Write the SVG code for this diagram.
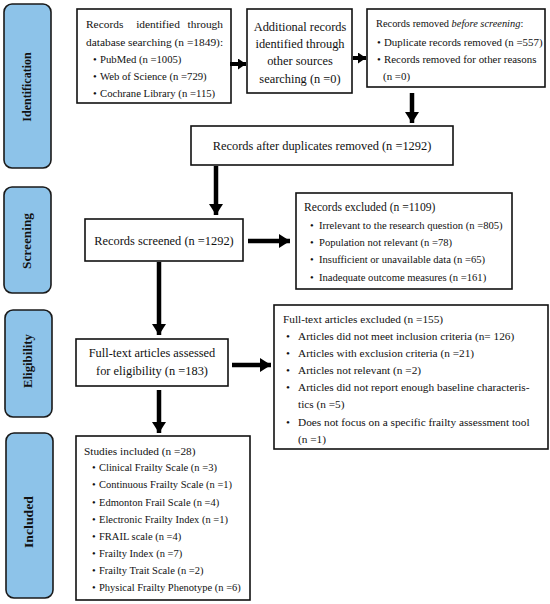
<svg xmlns="http://www.w3.org/2000/svg" width="550" height="604" viewBox="0 0 550 604">
<defs>
<style>
text{font-family:"Liberation Serif","Times New Roman",serif;fill:#111;}
.side{fill:#8DC3E9;stroke:#1a1a1a;stroke-width:1.6;}
.sl{font-weight:bold;font-size:12px;text-anchor:middle;}
.box{fill:#fff;stroke:#111;stroke-width:1.6;}
.t{font-size:12.4px;}
.h1{font-size:11.4px;}
.b1{font-size:10.7px;}
.b3{font-size:10.9px;}
.b5{font-size:10.6px;}
.b7{font-size:11.3px;}
.bi{font-size:10.5px;}
.c{text-anchor:middle;}
.e{text-anchor:end;}
.arr{stroke:#000;stroke-width:4.5;fill:none;}
.arr2{stroke:#000;stroke-width:4;fill:none;}
</style>
<marker id="ah" markerUnits="userSpaceOnUse" markerWidth="13" markerHeight="14" refX="11" refY="7" orient="auto">
<path d="M0,0 L11,7 L0,14 z" fill="#000"/>
</marker>
<marker id="ahs" markerUnits="userSpaceOnUse" markerWidth="9" markerHeight="11" refX="8" refY="5.5" orient="auto">
<path d="M0,0 L8,5.5 L0,11 z" fill="#000"/>
</marker>
</defs>
<rect width="550" height="604" fill="#fff"/>

<g id="side-identification">
<rect class="side" x="4" y="4" width="47" height="164" rx="8"/>
<text class="sl" transform="translate(31,87) rotate(-90)">Identification</text>
</g>
<g id="side-screening">
<rect class="side" x="4" y="187" width="47" height="106" rx="8"/>
<text class="sl" transform="translate(31,241) rotate(-90)" textLength="56" lengthAdjust="spacingAndGlyphs">Screening</text>
</g>
<g id="side-eligibility">
<rect class="side" x="5" y="310" width="47" height="107" rx="8"/>
<text class="sl" transform="translate(32,361) rotate(-90)" textLength="54" lengthAdjust="spacingAndGlyphs">Eligibility</text>
</g>
<g id="side-included">
<rect class="side" x="6" y="433" width="47" height="165" rx="8"/>
<text class="sl" transform="translate(33,522) rotate(-90)" textLength="52" lengthAdjust="spacingAndGlyphs">Included</text>
</g>

<g id="n-database">
<rect class="box" x="77" y="9" width="154" height="94"/>
<text class="h1" x="86" y="28">Records</text>
<text class="h1 c" x="158" y="28">identified</text>
<text class="h1 e" x="223" y="28">through</text>
<text class="h1" x="86" y="46">database searching (n =1849):</text>
<text class="b1" y="63"><tspan x="93">•</tspan><tspan x="100">PubMed (n =1005)</tspan></text>
<text class="b1" y="80"><tspan x="93">•</tspan><tspan x="100">Web of Science (n =729)</tspan></text>
<text class="b1" y="97"><tspan x="93">•</tspan><tspan x="100">Cochrane Library (n =115)</tspan></text>
</g>

<g id="n-additional">
<rect class="box" x="247" y="9" width="105" height="84"/>
<text class="t c" x="300" y="31" font-size="11.8">Additional records</text>
<text class="t c" x="300" y="48" font-size="11.8">identified through</text>
<text class="t c" x="300" y="65" font-size="11.8">other sources</text>
<text class="t c" x="300" y="83" font-size="11.8">searching (n =0)</text>
</g>

<g id="n-removed">
<rect class="box" x="367" y="9" width="178" height="78"/>
<text x="376" y="27" font-size="10.4">Records removed <tspan font-style="italic">before screening</tspan>:</text>
<text class="b3" y="46"><tspan x="377">•</tspan><tspan x="384">Duplicate records removed (n =557)</tspan></text>
<text class="b3" y="63"><tspan x="377">•</tspan><tspan x="384">Records removed for other reasons</tspan></text>
<text class="b3" x="383" y="80">(n =0)</text>
</g>

<g id="n-after-dup">
<rect class="box" x="191" y="126" width="262" height="39"/>
<text class="t c" x="322" y="150" font-size="12.5">Records after duplicates removed (n =1292)</text>
</g>

<g id="n-screened">
<rect class="box" x="85" y="219" width="158" height="42"/>
<text class="t c" x="164" y="245" font-size="12.3">Records screened (n =1292)</text>
</g>

<g id="n-excluded">
<rect class="box" x="296" y="193" width="216" height="96"/>
<text x="304" y="211" font-size="11.6">Records excluded (n =1109)</text>
<text class="b5" y="229"><tspan x="310">•</tspan><tspan x="319">Irrelevant to the research question (n =805)</tspan></text>
<text class="b5" y="246"><tspan x="310">•</tspan><tspan x="319">Population not relevant (n =78)</tspan></text>
<text class="b5" y="263"><tspan x="310">•</tspan><tspan x="319">Insufficient or unavailable data (n =65)</tspan></text>
<text class="b5" y="281"><tspan x="310">•</tspan><tspan x="319">Inadequate outcome measures (n =161)</tspan></text>
</g>

<g id="n-assessed">
<rect class="box" x="76" y="339" width="152" height="47"/>
<text class="t c" x="152" y="357">Full-text articles assessed</text>
<text class="t c" x="152" y="375">for eligibility (n =183)</text>
</g>

<g id="n-ft-excluded">
<rect class="box" x="274" y="305" width="274" height="144"/>
<text class="b7" x="283" y="323">Full-text articles excluded (n =155)</text>
<text class="b7" y="340"><tspan x="286">•</tspan><tspan x="298">Articles did not meet inclusion criteria (n= 126)</tspan></text>
<text class="b7" y="357"><tspan x="286">•</tspan><tspan x="298">Articles with exclusion criteria (n =21)</tspan></text>
<text class="b7" y="374"><tspan x="286">•</tspan><tspan x="298">Articles not relevant (n =2)</tspan></text>
<text class="b7" y="391"><tspan x="286">•</tspan><tspan x="298">Articles did not report enough baseline characteris-</tspan></text>
<text class="b7" x="298" y="408">tics (n =5)</text>
<text class="b7" y="426"><tspan x="286">•</tspan><tspan x="298">Does not focus on a specific frailty assessment tool</tspan></text>
<text class="b7" x="298" y="443">(n =1)</text>
</g>

<g id="n-included">
<rect class="box" x="76" y="436" width="174" height="164"/>
<text x="84" y="455" font-size="11.3">Studies included (n =28)</text>
<text class="bi" y="471"><tspan x="92">•</tspan><tspan x="99">Clinical Frailty Scale (n =3)</tspan></text>
<text class="bi" y="488"><tspan x="92">•</tspan><tspan x="99">Continuous Frailty Scale (n =1)</tspan></text>
<text class="bi" y="506"><tspan x="92">•</tspan><tspan x="99">Edmonton Frail Scale (n =4)</tspan></text>
<text class="bi" y="523"><tspan x="92">•</tspan><tspan x="99">Electronic Frailty Index (n =1)</tspan></text>
<text class="bi" y="540"><tspan x="92">•</tspan><tspan x="99">FRAIL scale (n =4)</tspan></text>
<text class="bi" y="557"><tspan x="92">•</tspan><tspan x="99">Frailty Index (n =7)</tspan></text>
<text class="bi" y="574"><tspan x="92">•</tspan><tspan x="99">Frailty Trait Scale (n =2)</tspan></text>
<text class="bi" y="591"><tspan x="92">•</tspan><tspan x="99">Physical Frailty Phenotype (n =6)</tspan></text>
</g>

<g id="connectors">
<line class="arr2" x1="230" y1="64" x2="246" y2="64" marker-end="url(#ahs)"/>
<line class="arr2" x1="353" y1="58" x2="366" y2="58" marker-end="url(#ahs)"/>
<line class="arr" x1="412" y1="93" x2="412" y2="123" marker-end="url(#ah)"/>
<line class="arr" x1="216" y1="166" x2="216" y2="215" marker-end="url(#ah)"/>
<line class="arr" x1="248" y1="241" x2="290" y2="241" marker-end="url(#ah)"/>
<line class="arr" x1="159" y1="262" x2="159" y2="335" marker-end="url(#ah)"/>
<line class="arr" x1="232" y1="365" x2="271" y2="365" marker-end="url(#ah)"/>
<line class="arr" x1="159" y1="390" x2="159" y2="433" marker-end="url(#ah)"/>
</g>
</svg>
